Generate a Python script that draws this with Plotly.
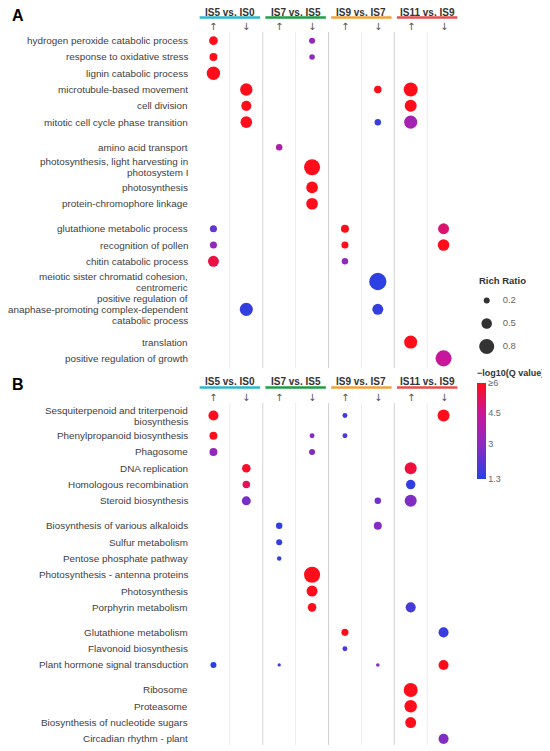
import plotly.graph_objects as go

COMPARISONS = ["IS5 vs. IS0", "IS7 vs. IS5", "IS9 vs. IS7", "IS11 vs. IS9"]
COMPARISON_COLORS = ["#2bb8cf", "#1e9e45", "#f2a23a", "#e5504e"]
DIRECTIONS = ["↑", "↓"]

# panel A: GO terms, in blocks
A_TERMS = [
    ["hydrogen peroxide catabolic process", "response to oxidative stress", "lignin catabolic process",
     "microtubule-based movement", "cell division", "mitotic cell cycle phase transition"],
    ["amino acid transport", "photosynthesis, light harvesting in<br>photosystem I", "photosynthesis",
     "protein-chromophore linkage"],
    ["glutathione metabolic process", "recognition of pollen", "chitin catabolic process",
     "meiotic sister chromatid cohesion,<br>centromeric",
     "positive regulation of<br>anaphase-promoting complex-dependent<br>catabolic process"],
    ["translation", "positive regulation of growth"],
]
# dots: term index, column (comparison*2 + up/down), rich ratio, -log10(Q)
A_TERM = [0, 0, 1, 1, 2, 3, 3, 3, 4, 4, 5, 5, 5, 6, 7, 8, 9, 10, 10, 10, 11, 11, 11, 12, 12, 13, 14, 14, 15, 16]
A_COL = [0, 3, 0, 3, 0, 1, 5, 6, 1, 6, 1, 5, 6, 2, 3, 3, 3, 0, 4, 7, 0, 4, 7, 0, 4, 5, 1, 5, 6, 7]
A_RATIO = [0.38, 0.2, 0.33, 0.17, 0.69, 0.63, 0.3, 0.73, 0.47, 0.6, 0.57, 0.23, 0.67, 0.23, 0.87,
           0.58, 0.58, 0.27, 0.33, 0.53, 0.27, 0.27, 0.57, 0.53, 0.23, 0.95, 0.67, 0.53, 0.67, 0.87]
A_Q = [6, 3.2, 6, 3.0, 6, 6, 6, 6, 6, 6, 6, 1.6, 3.6, 3.9, 6, 6, 6, 2.3, 6, 5.0,
       3.1, 6, 6, 5.5, 3.1, 1.4, 1.5, 1.5, 6, 4.5]

# panel B: KEGG pathways
B_TERMS = [
    ["Sesquiterpenoid and triterpenoid<br>biosynthesis", "Phenylpropanoid biosynthesis", "Phagosome",
     "DNA replication", "Homologous recombination", "Steroid biosynthesis"],
    ["Biosynthesis of various alkaloids", "Sulfur metabolism", "Pentose phosphate pathway",
     "Photosynthesis - antenna proteins", "Photosynthesis", "Porphyrin metabolism"],
    ["Glutathione metabolism", "Flavonoid biosynthesis", "Plant hormone signal transduction"],
    ["Ribosome", "Proteasome", "Biosynthesis of nucleotide sugars", "Circadian rhythm - plant"],
]
B_TERM = [0, 0, 0, 1, 1, 1, 2, 2, 3, 3, 4, 4, 5, 5, 5, 6, 6, 7, 8, 9, 10, 11, 11, 12, 12, 13,
          14, 14, 14, 14, 15, 16, 17, 18]
B_COL = [0, 4, 7, 0, 3, 4, 0, 3, 1, 6, 1, 6, 1, 5, 6, 2, 5, 2, 2, 3, 3, 3, 6, 4, 7, 4,
         0, 2, 5, 7, 6, 6, 6, 7]
B_RATIO = [0.47, 0.13, 0.6, 0.33, 0.13, 0.13, 0.33, 0.2, 0.37, 0.6, 0.3, 0.43, 0.4, 0.23, 0.6,
           0.23, 0.33, 0.2, 0.1, 0.87, 0.53, 0.37, 0.47, 0.27, 0.47, 0.13,
           0.2, 0.02, 0.04, 0.47, 0.73, 0.63, 0.53, 0.47]
B_Q = [6, 1.6, 6, 6, 2.8, 2.0, 3.2, 2.8, 5.8, 5.6, 5.3, 1.5, 2.6, 2.5, 2.8,
       1.5, 2.9, 1.5, 1.5, 6, 6, 6, 1.8, 6, 1.6, 1.8,
       1.3, 1.6, 3.0, 6, 6, 6, 6, 2.8]

LEGEND_RATIOS = [0.2, 0.5, 0.8]
Q_TICKS = [1.3, 3, 4.5, 6]
Q_TICKTEXT = ["1.3", "3", "4.5", "≥6"]

FONT = "Liberation Sans, Arial, sans-serif"
OFF = 8  # page body margin
W, H = 550 - OFF, 751 - OFF
ML, MR, MT, MB = 197 - OFF, 4, 32 - OFF, 6
PW, PH = W - ML - MR, H - MT - MB
MAIN_W = 263
LINE_H = 11


def px_y(y):
    # screen pixel -> paper
    return (H - MB - (y - OFF)) / PH


def px_x(x):
    return (x - OFF - ML) / PW


def dot_size(r):
    return 3 + 15 * r


def row_positions(blocks, pitch=16.3, extra=7.7, gap=8.7):
    ys, labels = [], []
    prev = None
    y = 0.5
    for block in blocks:
        for i, term in enumerate(block):
            h = pitch + extra * term.count("<br>")
            if prev is None:
                y += h / 2
            else:
                y += (prev + h) / 2 + (gap if i == 0 else 0)
            ys.append(y)
            labels.append(term)
            prev = h
    return ys, labels


fig = go.Figure()
shapes, annotations = [], []

panels = [
    ("A", A_TERMS, A_TERM, A_COL, A_RATIO, A_Q, "x", "y", 32, 368, 20, 14.5, 17),
    ("B", B_TERMS, B_TERM, B_COL, B_RATIO, B_Q, "x2", "y2", 403, 745, 22, 15.5, 19),
]
for k, (letter, blocks, terms, cols, ratios, qs, xa, ya, top, bot, head_up, line_up, letter_up) in enumerate(panels):
    ys, labels = row_positions(blocks)
    fig.add_trace(go.Scatter(
        x=cols, y=[ys[t] for t in terms], mode="markers", xaxis=xa, yaxis=ya,
        marker=dict(size=[dot_size(r) for r in ratios], color=[min(q, 6) for q in qs],
                    coloraxis="coloraxis", line=dict(width=0), opacity=1),
        showlegend=False, hoverinfo="skip"))
    sfx = "" if k == 0 else "2"
    fig.update_layout({
        f"xaxis{sfx}": dict(domain=[0, MAIN_W / PW], range=[-0.5, 7.5], anchor=ya,
                            showticklabels=False, showgrid=False, zeroline=False, showline=False),
        f"yaxis{sfx}": dict(domain=[px_y(bot), px_y(top)], range=[bot - top, 0], anchor=xa,
                            showticklabels=False, ticks="", showgrid=False, zeroline=False,
                            showline=False),
    })
    # term labels, one annotation per line so the line spacing stays tight
    for yv, lab in zip(ys, labels):
        parts = lab.split("<br>")
        n = len(parts)
        for i, part in enumerate(parts):
            annotations.append(dict(text=part, xref="paper", yref=ya, x=px_x(189.5), y=yv,
                                    xanchor="right", yanchor="middle",
                                    yshift=((n - 1) / 2 - i) * LINE_H, showarrow=False,
                                    font=dict(size=9.9, color="#404040", family=FONT)))
    # column separators
    for b in range(7):
        xb = b + 0.5
        shapes.append(dict(type="line", xref=xa, yref=f"{ya} domain", x0=xb, x1=xb, y0=0, y1=1,
                           line=dict(color="#ececec" if b % 2 == 0 else "#d2d2d2", width=1),
                           layer="below"))
    # comparison headers
    for g, name in enumerate(COMPARISONS):
        annotations.append(dict(text=f"<b>{name}</b>", xref=xa, yref=f"{ya} domain", x=2 * g + 0.5,
                                y=1, yanchor="middle", yshift=head_up, showarrow=False,
                                font=dict(size=10, color="#333333", family=FONT)))
        shapes.append(dict(type="line", xref=xa, yref=f"{ya} domain", x0=2 * g - 0.42, x1=2 * g + 1.42,
                           ysizemode="pixel", yanchor=1, y0=line_up, y1=line_up,
                           line=dict(color=COMPARISON_COLORS[g], width=2.5)))
        for d, arrow in enumerate(DIRECTIONS):
            annotations.append(dict(text=arrow, xref=xa, yref=f"{ya} domain", x=2 * g + d, y=1,
                                    yanchor="middle", yshift=6, showarrow=False,
                                    font=dict(size=10, color="#555555", family="DejaVu Sans")))
    annotations.append(dict(text=f"<b>{letter}</b>", xref="paper", yref=f"{ya} domain",
                            x=px_x(9.5), xanchor="left", y=1, yanchor="middle", yshift=letter_up,
                            showarrow=False, font=dict(size=16, color="black", family=FONT)))

# rich ratio legend
fig.add_trace(go.Scatter(
    x=[0.22] * len(LEGEND_RATIOS), y=list(range(len(LEGEND_RATIOS))), mode="markers",
    xaxis="x3", yaxis="y3", marker=dict(size=[dot_size(r) for r in LEGEND_RATIOS], color="#333333",
                                         line=dict(width=0), opacity=1),
    showlegend=False, hoverinfo="skip"))
fig.add_trace(go.Scatter(
    x=[0.43] * len(LEGEND_RATIOS), y=list(range(len(LEGEND_RATIOS))), mode="text",
    xaxis="x3", yaxis="y3", text=[str(r) for r in LEGEND_RATIOS], textposition="middle right",
    textfont=dict(size=9.5, color="#666666", family=FONT), showlegend=False, hoverinfo="skip"))
annotations.append(dict(text="<b>Rich Ratio</b>", xref="paper", yref="paper", x=px_x(476.5), y=px_y(280),
                        xanchor="left", yanchor="middle", showarrow=False,
                        font=dict(size=9.5, color="#333333", family=FONT)))
annotations.append(dict(text="<b>−log10(Q value)</b>", xref="paper", yref="paper", x=px_x(475), y=px_y(373),
                        xanchor="left", yanchor="middle", showarrow=False,
                        font=dict(size=9, color="#333333", family=FONT)))

fig.update_layout(
    width=W, height=H,
    margin=dict(l=ML, r=MR, t=MT, b=MB),
    paper_bgcolor="white", plot_bgcolor="white",
    font=dict(family=FONT, color="#404040"),
    xaxis3=dict(domain=[px_x(470), 1.0], range=[0, 1], anchor="y3", visible=False),
    yaxis3=dict(domain=[px_y(358), px_y(289)], range=[2.5, -0.5], anchor="x3", visible=False),
    coloraxis=dict(
        cmin=1.3, cmax=6,
        colorscale=[[0, "#2741e6"], [0.36, "#8c2bbf"], [0.68, "#c8169a"], [1, "#ff0d1a"]],
        colorbar=dict(x=px_x(476.7), xanchor="left", xpad=0, y=px_y(430.5), yanchor="middle", ypad=0,
                      lenmode="pixels", len=96, thickness=9, outlinewidth=0, ticks="",
                      tickvals=Q_TICKS, ticktext=Q_TICKTEXT,
                      tickfont=dict(size=9, color="#666666", family=FONT)),
    ),
    shapes=shapes, annotations=annotations,
)

fig.write_html("out.html")
